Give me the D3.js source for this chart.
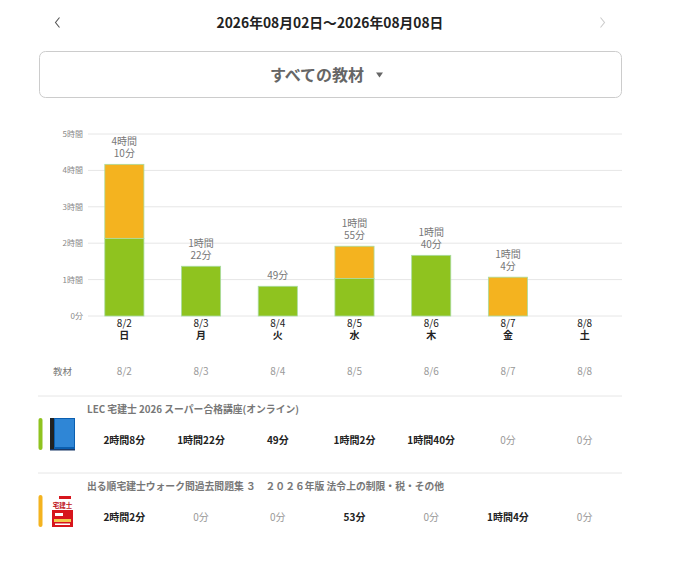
<!DOCTYPE html>
<html>
<head>
<meta charset="utf-8">
<script src="https://cdn.jsdelivr.net/npm/d3@7"></script>
<style>
  body { margin: 0; background: #fff; }
  svg text { font-family: "Noto Sans CJK JP", "Noto Sans", sans-serif; }
</style>
</head>
<body>
<div id="chart"></div>
<script>
// ---- data ----
const days = ["8/2", "8/3", "8/4", "8/5", "8/6", "8/7", "8/8"];
const weekdays = ["日", "月", "火", "水", "木", "金", "土"];
const materials = [
    "LEC 宅建士 2026 スーパー合格講座(オンライン)",
    "出る順宅建士ウォーク問過去問題集 ３　２０２６年版 法令上の制限・税・その他"
];
// minutes per day
const lecMinutes = [128, 82, 49, 62, 100, 0, 0];
const walkMinutes = [122, 0, 0, 53, 0, 64, 0];
const yTicks = [0, 60, 120, 180, 240, 300];
const seriesColors = ["#8fc31f", "#f4b31f"];

function fmt(m) {
    const h = Math.floor(m / 60), mm = m % 60;
    if (h === 0) return mm + "分";
    return h + "時間" + mm + "分";
}
function tickFmt(m) {
    return m === 0 ? "0分" : (m / 60) + "時間";
}

const W = 691, H = 569;
const svg = d3.select("#chart").append("svg")
    .attr("width", W).attr("height", H);

// ---- header ----
svg.append("path").attr("d", "M59.5,17.5 L55.5,22.5 L59.5,27.5")
    .attr("fill", "none").attr("stroke", "#555").attr("stroke-width", 1.1);
svg.append("path").attr("d", "M600.5,17.5 L604.5,22.5 L600.5,27.5")
    .attr("fill", "none").attr("stroke", "#ccc").attr("stroke-width", 1.1);
svg.append("text").attr("x", 330).attr("y", 28).attr("text-anchor", "middle")
    .attr("font-size", 13.8).attr("font-weight", "bold").attr("fill", "#222")
    .text("2026年08月02日〜2026年08月08日");

svg.append("rect").attr("x", 39.5).attr("y", 51.5).attr("width", 582).attr("height", 46)
    .attr("rx", 6).attr("fill", "#fff").attr("stroke", "#ccc");
svg.append("text").attr("x", 317).attr("y", 81).attr("text-anchor", "middle")
    .attr("font-size", 16).attr("font-weight", "bold").attr("fill", "#666")
    .text("すべての教材");
svg.append("path").attr("d", "M376,72.5 L383,72.5 L379.5,77.5 Z").attr("fill", "#666");

// ---- chart ----
const x = d3.scaleBand().domain(days).range([86, 623]).paddingInner(0.49).paddingOuter(0.245);
const y = d3.scaleLinear().domain([0, 300]).range([316, 134]);

const grid = svg.append("g");
grid.selectAll("line").data(yTicks).enter().append("line")
    .attr("x1", 88).attr("x2", 622)
    .attr("y1", d => y(d)).attr("y2", d => y(d))
    .attr("stroke", "#e6e6e6").attr("stroke-width", 1);

const yAxis = d3.axisLeft(y).tickValues(yTicks).tickFormat(tickFmt).tickSize(0).tickPadding(0);
svg.append("g").attr("transform", "translate(83,0)").call(yAxis)
    .call(g => g.select(".domain").remove())
    .call(g => g.selectAll("text").attr("font-size", 8).attr("fill", "#888")
        .style("font-family", "'Noto Sans CJK JP', sans-serif"));

const stackData = days.map((d, i) => ({ day: d, lec: lecMinutes[i], walk: walkMinutes[i] }));
const stack = d3.stack().keys(["lec", "walk"])(stackData);

svg.append("g").selectAll("g").data(stack).enter().append("g")
    .attr("fill", (d, i) => seriesColors[i])
    .selectAll("rect").data(d => d.filter(s => s[1] - s[0] > 0)).enter().append("rect")
    .attr("x", d => x(d.data.day))
    .attr("width", x.bandwidth())
    .attr("y", d => y(d[1]))
    .attr("height", d => y(d[0]) - y(d[1]))
    .attr("stroke", "#a8dca0").attr("stroke-width", 0.8);

// total labels, one text per line
const totals = days.map((d, i) => ({ day: d, total: lecMinutes[i] + walkMinutes[i] }))
    .filter(t => t.total > 0);
const lines = [];
totals.forEach(t => {
    const h = Math.floor(t.total / 60), m = t.total % 60;
    if (h > 0) lines.push({ day: t.day, total: t.total, off: 19.5, txt: h + "時間" });
    lines.push({ day: t.day, total: t.total, off: 7.5, txt: m + "分" });
});
svg.append("g").selectAll("text").data(lines).enter().append("text")
    .attr("x", d => x(d.day) + x.bandwidth() / 2)
    .attr("y", d => y(d.total) - d.off)
    .attr("text-anchor", "middle").attr("font-size", 10).attr("fill", "#777")
    .text(d => d.txt);

// x axis
const xl = svg.append("g").selectAll("g").data(days).enter().append("g")
    .attr("transform", d => `translate(${x(d) + x.bandwidth() / 2},0)`);
xl.append("text").attr("y", 327).attr("text-anchor", "middle")
    .attr("font-size", 10).attr("fill", "#222").text(d => d);
xl.append("text").attr("y", 339).attr("text-anchor", "middle")
    .attr("font-size", 10).attr("font-weight", "bold").attr("fill", "#222")
    .text((d, i) => weekdays[i]);

// ---- table ----
const colX = d => x(d) + x.bandwidth() / 2;
svg.append("text").attr("x", 53).attr("y", 375).attr("font-size", 9.5).attr("fill", "#777").text("教材");
svg.append("g").selectAll("text").data(days).enter().append("text")
    .attr("x", colX).attr("y", 375).attr("text-anchor", "middle")
    .attr("font-size", 10).attr("fill", "#999").text(d => d);

const rows = [
    { name: materials[0], values: lecMinutes, color: seriesColors[0], top: 396 },
    { name: materials[1], values: walkMinutes, color: seriesColors[1], top: 473 }
];

rows.forEach((r, ri) => {
    const g = svg.append("g");
    g.append("line").attr("x1", 38).attr("x2", 622).attr("y1", r.top).attr("y2", r.top)
        .attr("stroke", "#e6e6e6");
    g.append("text").attr("x", 87).attr("y", r.top + 17).attr("font-size", 9.8)
        .attr("font-weight", "bold").attr("fill", "#777").text(r.name);
    g.append("rect").attr("x", 38.5).attr("y", r.top + 22).attr("width", 4).attr("height", 32)
        .attr("rx", 2).attr("fill", r.color);
    g.selectAll(".v").data(r.values).enter().append("text")
        .attr("x", (d, i) => colX(days[i])).attr("y", r.top + 48)
        .attr("text-anchor", "middle").attr("font-size", 10)
        .attr("font-weight", d => d > 0 ? "bold" : "normal")
        .attr("fill", d => d > 0 ? "#222" : "#999")
        .text(fmt);

    const ic = g.append("g").attr("transform", `translate(50,${r.top + 22})`);
    if (ri === 0) {
        // blue book icon
        ic.append("rect").attr("x", 0).attr("y", 0).attr("width", 25).attr("height", 32).attr("fill", "#0b5fb0");
        ic.append("rect").attr("x", 0).attr("y", 0).attr("width", 4).attr("height", 31).attr("fill", "#222");
        ic.append("rect").attr("x", 5).attr("y", 1).attr("width", 19).attr("height", 28).attr("fill", "#2f86d6");
        ic.append("rect").attr("x", 0).attr("y", 31).attr("width", 25).attr("height", 1.5).attr("fill", "#1a3a6a");
    } else {
        // red book cover icon
        ic.append("rect").attr("x", 2).attr("y", 0).attr("width", 21).attr("height", 32).attr("fill", "#fff");
        ic.append("rect").attr("x", 2).attr("y", 15).attr("width", 21).attr("height", 17).attr("fill", "#d7151c");
        ic.append("rect").attr("x", 9).attr("y", 1).attr("width", 12).attr("height", 3).attr("fill", "#d7151c");
        ic.append("text").attr("x", 12.5).attr("y", 13).attr("text-anchor", "middle")
            .attr("font-size", 6.5).attr("font-weight", "bold").attr("fill", "#c0141b").text("宅建士");
        ic.append("rect").attr("x", 5).attr("y", 18).attr("width", 8).attr("height", 3).attr("fill", "#fff");
        ic.append("rect").attr("x", 4).attr("y", 24).attr("width", 17).attr("height", 3).attr("fill", "#f2c94c");
        ic.append("rect").attr("x", 5).attr("y", 28.5).attr("width", 15).attr("height", 1.5).attr("fill", "#fff");
    }
});
</script>
</body>
</html>
